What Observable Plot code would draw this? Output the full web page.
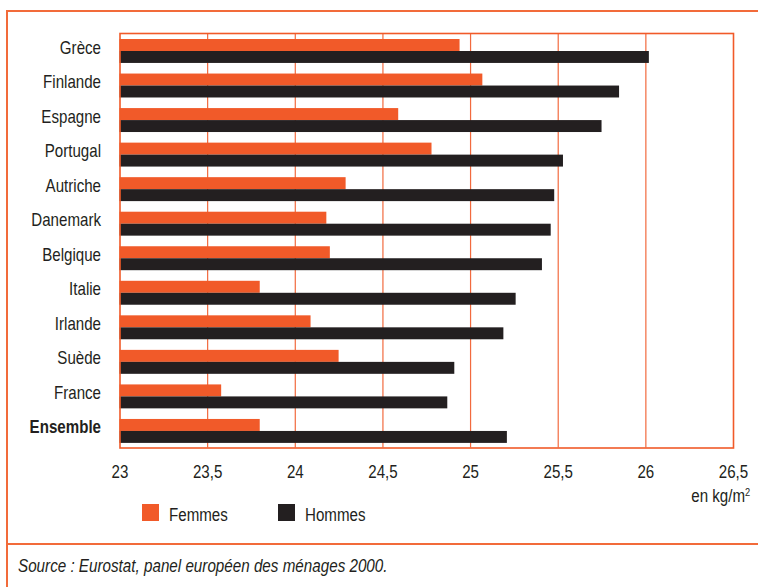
<!DOCTYPE html>
<html>
<head>
<meta charset="utf-8">
<script src="https://cdn.jsdelivr.net/npm/d3@7"></script>
<script src="https://cdn.jsdelivr.net/npm/@observablehq/plot@0.6"></script>
<style>
  html, body { margin: 0; padding: 0; background: #fff; }
  #page { position: relative; width: 758px; height: 587px; overflow: hidden; background: #fff;
          font-family: "Liberation Sans", Arial, sans-serif; color: #231f20; }
  #chart { position: absolute; left: 0; top: 0; }
  .rule { position: absolute; background: #f26b3a; }
  .txt { position: absolute; white-space: nowrap; font-size: 18px; line-height: 1; transform: scaleX(0.84); transform-origin: left top; }
  .sw { position: absolute; width: 17px; height: 17px; }
</style>
</head>
<body>
<div id="page">
  <div class="rule" style="left:6px; top:10px; width:752px; height:1.5px;"></div>
  <div class="rule" style="left:6px; top:10px; width:1.5px; height:577px;"></div>
  <div class="rule" style="left:6px; top:543px; width:752px; height:1.5px;"></div>
  <div id="chart"></div>
  <div class="sw" style="left:142px; top:504px; background:#f15a29;"></div>
  <div class="txt" id="lf" style="left:169px; top:506px;">Femmes</div>
  <div class="sw" style="left:278px; top:504px; background:#231f20;"></div>
  <div class="txt" id="lh" style="left:305px; top:506px;">Hommes</div>
  <div class="txt" id="unit" style="right:8px; top:487px; transform-origin: right top;">en kg/m<sup style="font-size:11px; vertical-align: 6px;">2</sup></div>
  <div class="txt" id="src" style="left:18px; top:556.5px; font-style:italic; transform: scaleX(0.845);">Source : Eurostat, panel européen des ménages 2000.</div>
</div>
<script>
const countries = ["Grèce","Finlande","Espagne","Portugal","Autriche","Danemark","Belgique","Italie","Irlande","Suède","France","Ensemble"];
const femmes = [24.94, 25.07, 24.59, 24.78, 24.29, 24.18, 24.20, 23.80, 24.09, 24.25, 23.58, 23.80];
const hommes = [26.02, 25.85, 25.75, 25.53, 25.48, 25.46, 25.41, 25.26, 25.19, 24.91, 24.87, 25.21];
const xTicks = [23, 23.5, 24, 24.5, 25, 25.5, 26, 26.5];
const xDomain = [23, 26.5];

const orange = "#f15a29";
const black = "#231f20";

const rows = countries.map((c, i) => ({country: c, femmes: femmes[i], hommes: hommes[i]}));

const chart = Plot.plot({
  width: 758,
  height: 490,
  marginLeft: 119.5,
  marginRight: 25,
  marginTop: 33,
  marginBottom: 42.5,
  style: {fontFamily: '"Liberation Sans", Arial, sans-serif', fontSize: "18px", color: black, background: "transparent"},
  x: {domain: xDomain, ticks: xTicks},
  y: {domain: countries, padding: 0, round: false},
  marks: [
    Plot.ruleX(xTicks.slice(1, -1), {stroke: orange, strokeWidth: 1.2, strokeOpacity: 0.9}),
    Plot.barX(rows, {y: "country", x1: xDomain[0], x2: "femmes", fill: orange, insetTop: 6, insetBottom: 16.55}),
    Plot.barX(rows, {y: "country", x1: xDomain[0], x2: "hommes", fill: black, insetTop: 18, insetBottom: 4.6}),
    Plot.frame({stroke: orange, strokeWidth: 1.6}),
    Plot.axisX(xTicks, {tickSize: 0, tickPadding: 17, tickFormat: d => String(d).replace(".", ","), fill: black, label: null}),
    Plot.axisY({tickSize: 0, tickPadding: 19, dy: -3, fill: black, label: null})
  ]
});
document.getElementById("chart").appendChild(chart);
chart.querySelectorAll("g[aria-label$='tick label'] text").forEach(t => {
  const tr = t.getAttribute("transform") || "";
  t.setAttribute("transform", tr + " scale(0.84,1)");
  if (t.textContent === "Ensemble") t.setAttribute("font-weight", "bold");
});
</script>
</body>
</html>
